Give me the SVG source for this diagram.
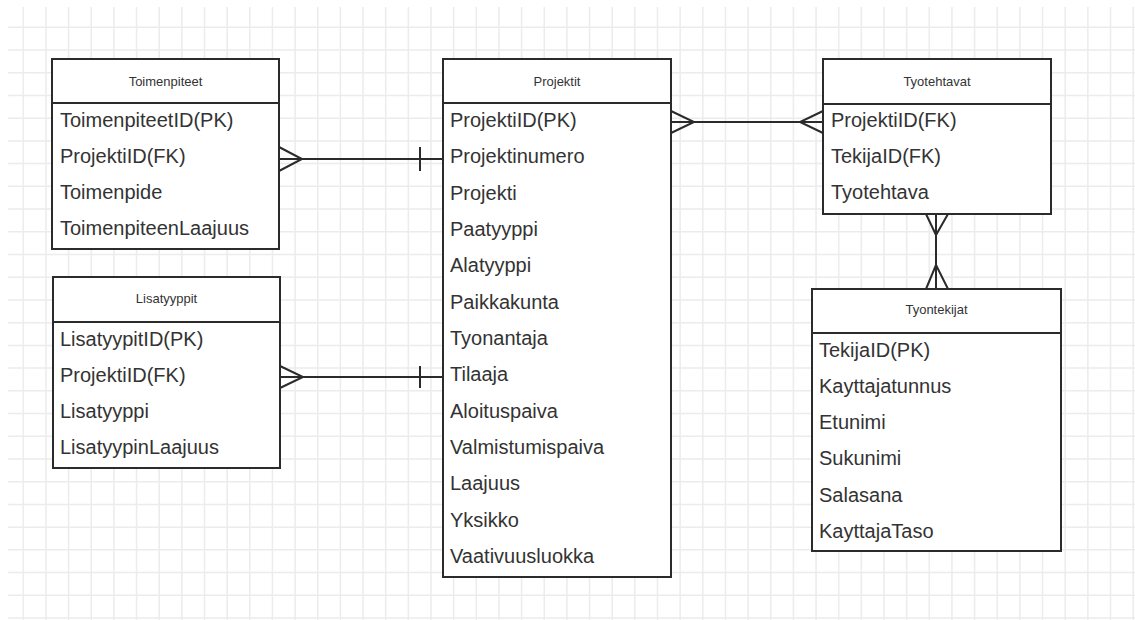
<svg xmlns="http://www.w3.org/2000/svg" width="1135" height="620" viewBox="0 0 1135 620">
<style>
.grid{stroke:#ececec;stroke-width:1.5;fill:none}
.box{fill:#fff;stroke:#2b2b2b;stroke-width:2}
.sep{stroke:#2b2b2b;stroke-width:2}
.hdr{font-family:"Liberation Sans",Arial,sans-serif;font-size:13px;fill:#333;text-anchor:middle}
.row{font-family:"Liberation Sans",Arial,sans-serif;font-size:20px;fill:#333}
.con{stroke:#2b2b2b;stroke-width:2;fill:none}
</style>
<rect x="0" y="0" width="1135" height="620" fill="#fff"/>
<path class="grid" d="M23.3 7V620M45.95 7V620M68.6 7V620M91.25 7V620M113.9 7V620M136.55 7V620M159.2 7V620M181.85 7V620M204.5 7V620M227.15 7V620M249.8 7V620M272.45 7V620M295.1 7V620M317.75 7V620M340.4 7V620M363.05 7V620M385.7 7V620M408.35 7V620M431 7V620M453.65 7V620M476.3 7V620M498.95 7V620M521.6 7V620M544.25 7V620M566.9 7V620M589.55 7V620M612.2 7V620M634.85 7V620M657.5 7V620M680.15 7V620M702.8 7V620M725.45 7V620M748.1 7V620M770.75 7V620M793.4 7V620M816.05 7V620M838.7 7V620M861.35 7V620M884 7V620M906.65 7V620M929.3 7V620M951.95 7V620M974.6 7V620M997.25 7V620M1019.9 7V620M1042.55 7V620M1065.2 7V620M1087.85 7V620M1110.5 7V620M1133.15 7V620M8 27.3H1135M8 50.02H1135M8 72.74H1135M8 95.46H1135M8 118.18H1135M8 140.9H1135M8 163.62H1135M8 186.34H1135M8 209.06H1135M8 231.78H1135M8 254.5H1135M8 277.22H1135M8 299.94H1135M8 322.66H1135M8 345.38H1135M8 368.1H1135M8 390.82H1135M8 413.54H1135M8 436.26H1135M8 458.98H1135M8 481.7H1135M8 504.42H1135M8 527.14H1135M8 549.86H1135M8 572.58H1135M8 595.3H1135M8 618.02H1135"/>
<g id="connectors">
<path class="con" d="M279 159H443M279 147L302 159L279 171M420 147V171"/>
<path class="con" d="M280 377H443M280 366L303 377L280 388M420 366V388"/>
<path class="con" d="M671 122H823M671 111L694 122L671 133M823 111L800 122L823 133"/>
<path class="con" d="M936 214V289M926 214L936 235L948 214M926 289L936 265L948 289"/>
</g>
<g id="toimenpiteet">
<rect class="box" x="52" y="59" width="227" height="190"/>
<line class="sep" x1="52" y1="103" x2="279" y2="103"/>
<text class="hdr" x="165.5" y="85.5">Toimenpiteet</text>
<text class="row" x="60" y="126.5">ToimenpiteetID(PK)</text>
<text class="row" x="60" y="162.8">ProjektiID(FK)</text>
<text class="row" x="60" y="199.1">Toimenpide</text>
<text class="row" x="60" y="235.4">ToimenpiteenLaajuus</text>
</g>
<g id="lisatyyppit">
<rect class="box" x="53" y="277" width="227" height="191"/>
<line class="sep" x1="53" y1="322" x2="280" y2="322"/>
<text class="hdr" x="166.5" y="302.5">Lisatyyppit</text>
<text class="row" x="60" y="345.5">LisatyypitID(PK)</text>
<text class="row" x="60" y="381.8">ProjektiID(FK)</text>
<text class="row" x="60" y="418.1">Lisatyyppi</text>
<text class="row" x="60" y="454.4">LisatyypinLaajuus</text>
</g>
<g id="projektit">
<rect class="box" x="443" y="59" width="228" height="518"/>
<line class="sep" x1="443" y1="103" x2="671" y2="103"/>
<text class="hdr" x="557" y="85.5">Projektit</text>
<text class="row" x="450" y="127">ProjektiID(PK)</text>
<text class="row" x="450" y="163.3">Projektinumero</text>
<text class="row" x="450" y="199.7">Projekti</text>
<text class="row" x="450" y="236">Paatyyppi</text>
<text class="row" x="450" y="272.3">Alatyyppi</text>
<text class="row" x="450" y="308.7">Paikkakunta</text>
<text class="row" x="450" y="345">Tyonantaja</text>
<text class="row" x="450" y="381.3">Tilaaja</text>
<text class="row" x="450" y="417.7">Aloituspaiva</text>
<text class="row" x="450" y="454">Valmistumispaiva</text>
<text class="row" x="450" y="490.3">Laajuus</text>
<text class="row" x="450" y="526.7">Yksikko</text>
<text class="row" x="450" y="563">Vaativuusluokka</text>
</g>
<g id="tyotehtavat">
<rect class="box" x="823" y="59" width="228" height="155"/>
<line class="sep" x1="823" y1="104" x2="1051" y2="104"/>
<text class="hdr" x="937" y="85.5">Tyotehtavat</text>
<text class="row" x="831" y="126.5">ProjektiID(FK)</text>
<text class="row" x="831" y="163">TekijaID(FK)</text>
<text class="row" x="831" y="199">Tyotehtava</text>
</g>
<g id="tyontekijat">
<rect class="box" x="812" y="289" width="249" height="262"/>
<line class="sep" x1="812" y1="333" x2="1061" y2="333"/>
<text class="hdr" x="936.5" y="313.5">Tyontekijat</text>
<text class="row" x="819" y="356.5">TekijaID(PK)</text>
<text class="row" x="819" y="392.8">Kayttajatunnus</text>
<text class="row" x="819" y="429.1">Etunimi</text>
<text class="row" x="819" y="465.4">Sukunimi</text>
<text class="row" x="819" y="501.7">Salasana</text>
<text class="row" x="819" y="538">KayttajaTaso</text>
</g>
</svg>
